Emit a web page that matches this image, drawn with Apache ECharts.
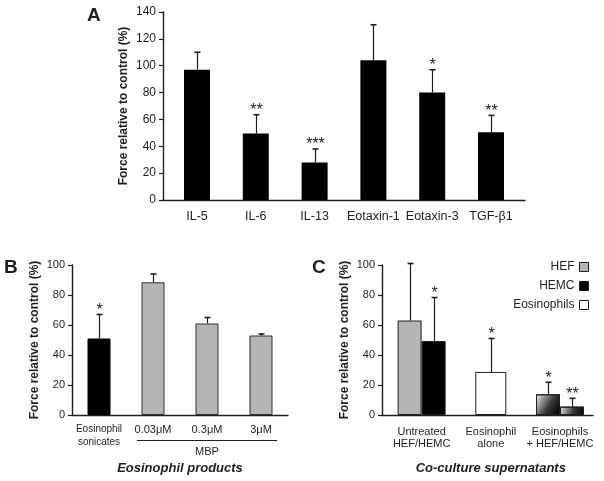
<!DOCTYPE html>
<html><head><meta charset="utf-8">
<script src="https://cdn.jsdelivr.net/npm/echarts@6/dist/echarts.min.js"></script>
<style>html,body{margin:0;padding:0;background:#fff}#c{width:604px;height:481px}</style>
</head><body><div id="c"></div>
<script>
// ---- Panel A data ----
const catsA = ['IL-5', 'IL-6', 'IL-13', 'Eotaxin-1', 'Eotaxin-3', 'TGF-β1'];
const valsA = [97, 49.5, 28, 104, 80, 50.5];
const errA  = [13, 14, 10, 26.5, 17, 12.5];
const sigA  = ['', '**', '***', '', '*', '**'];
const ticksA = {min: 0, max: 140, interval: 20};

// ---- Panel B data ----
const catsB = ['Eosinophil\nsonicates', '0.03μM', '0.3μM', '3μM'];
const valsB = [51, 88.5, 61, 53];
const errB  = [16, 5.5, 4, 1];
const sigB  = ['*', '', '', ''];
const ticksB = {min: 0, max: 100, interval: 20};

// ---- Panel C data ----
const catsC = ['Untreated\nHEF/HEMC', 'Eosinophil\nalone', 'Eosinophils\n+ HEF/HEMC'];
const hefC  = [63, null, 13.8];
const hefErrC = [38, null, 8];
const hefSigC = ['', '', '*'];
const hemcC = [49.3, null, 5.6];
const hemcErrC = [29, null, 5.5];
const hemcSigC = ['*', '', '**'];
const eosC  = [null, 28.7, null];
const eosErrC = [null, 22.3, null];
const eosSigC = ['', '*', ''];
const ticksC = {min: 0, max: 100, interval: 20};

const FONT = '"Liberation Sans", Arial, Helvetica, sans-serif';
const INK = '#1e1e1e';
const GREY = '#b5b5b5';
const grad = () => new echarts.graphic.LinearGradient(0, 0.15, 1, 0.85, [
  {offset: 0, color: '#e2e2e2'}, {offset: 0.55, color: '#3a3a3a'}, {offset: 1, color: '#000'}]);

const chart = echarts.init(document.getElementById('c'));

function errSeries(xi, yi, vals, errs, sigs, offset) {
  const rows = [];
  vals.forEach((v, i) => { if (v != null) rows.push([i, v, v + errs[i], sigs[i]]); });
  return {
    type: 'custom', xAxisIndex: xi, yAxisIndex: yi, silent: true, z: 5,
    data: rows.map(r => [r[0], r[1], r[2]]),
    renderItem(params, api) {
      const i = api.value(0);
      const b = api.coord([i, api.value(1)]);
      const t = api.coord([i, api.value(2)]);
      const x = Math.round(b[0] + offset) + 0.5;
      const ch = [
        {type: 'line', shape: {x1: x, y1: b[1], x2: x, y2: t[1]}, style: {stroke: INK, lineWidth: 1.2}},
        {type: 'line', shape: {x1: x - 3, y1: t[1], x2: x + 3, y2: t[1]}, style: {stroke: INK, lineWidth: 1.6}}
      ];
      const s = rows[params.dataIndex][3];
      if (s) ch.push({type: 'text', style: {text: s, x: x, y: t[1] + 4, align: 'center', verticalAlign: 'bottom',
        fill: INK, font: '16px ' + FONT}});
      return {type: 'group', children: ch};
    }
  };
}

function frameX(grid, cats) {
  return {type: 'category', gridIndex: grid, data: cats, axisTick: {show: false}, axisLabel: {show: false},
    axisLine: {lineStyle: {color: INK, width: 1.4}}};
}
function valY(grid, t, fs, gap) {
  return {type: 'value', gridIndex: grid, min: t.min, max: t.max, interval: t.interval,
    splitLine: {show: false},
    axisLine: {show: true, lineStyle: {color: INK, width: 1.4}},
    axisTick: {show: true, length: 4, lineStyle: {color: INK, width: 1.2}},
    axisLabel: {color: INK, fontSize: fs, fontFamily: FONT, margin: 7},
    name: 'Force relative to control (%)', nameLocation: 'middle', nameGap: gap, nameMoveOverlap: false,
    nameTextStyle: {color: INK, fontSize: 12, fontWeight: 'bold', fontFamily: FONT}};
}
function hiddenY(grid, t) {
  return {type: 'value', gridIndex: grid, min: t.min, max: t.max, interval: t.interval, show: false, splitLine: {show: false}};
}

const option = {
  backgroundColor: '#fff',
  animation: false,
  textStyle: {fontFamily: FONT},
  title: [
    {text: 'A', left: 87, top: 6, padding: 0, textStyle: {fontSize: 19, fontWeight: 'bold', color: INK, fontFamily: FONT}},
    {text: 'B', left: 4, top: 258, padding: 0, textStyle: {fontSize: 19, fontWeight: 'bold', color: INK, fontFamily: FONT}},
    {text: 'C', left: 312, top: 258, padding: 0, textStyle: {fontSize: 19, fontWeight: 'bold', color: INK, fontFamily: FONT}}
  ],
  legend: {
    data: ['HEF', 'HEMC', 'Eosinophils'], orient: 'vertical', right: 10, top: 256, align: 'right',
    itemWidth: 9, itemHeight: 9, itemGap: 7, icon: 'rect', selectedMode: false,
    itemStyle: {borderColor: INK, borderWidth: 1},
    textStyle: {color: INK, fontSize: 12, fontFamily: FONT, padding: [0, 0, 0, 0]}
  },
  grid: [
    {left: 163, top: 12, width: 362, height: 188},
    {left: 167.6, top: 12, width: 352.8, height: 188},
    {left: 72, top: 265, width: 216, height: 150},
    {left: 382, top: 265, width: 211, height: 150},
    {left: 387, top: 265, width: 207.6, height: 150}
  ],
  xAxis: [
    frameX(0, catsA),
    {type: 'category', gridIndex: 1, data: catsA, axisLine: {show: false}, axisTick: {show: false},
      axisLabel: {color: INK, fontSize: 12.5, fontFamily: FONT, margin: 10, interval: 0}},
    {type: 'category', gridIndex: 2, data: catsB.map((c, i) => i === 0 ? {value: c, textStyle: {fontSize: 10, lineHeight: 13}} : c),
      axisTick: {show: false}, axisLine: {lineStyle: {color: INK, width: 1.4}},
      axisLabel: {color: INK, fontSize: 11, fontFamily: FONT, margin: 8, interval: 0, lineHeight: 13},
      name: 'Eosinophil products', nameLocation: 'middle', nameGap: 47,
      nameTextStyle: {color: INK, fontSize: 13, fontWeight: 'bold', fontStyle: 'italic', fontFamily: FONT}},
    frameX(3, catsC),
    {type: 'category', gridIndex: 4, data: catsC, axisLine: {show: false}, axisTick: {show: false},
      axisLabel: {color: INK, fontSize: 11, fontFamily: FONT, margin: 11, interval: 0, lineHeight: 12},
      name: 'Co-culture supernatants', nameLocation: 'middle', nameGap: 47,
      nameTextStyle: {color: INK, fontSize: 13, fontWeight: 'bold', fontStyle: 'italic', fontFamily: FONT}},
    {type: 'category', gridIndex: 4, data: catsC, show: false}
  ],
  yAxis: [
    valY(0, ticksA, 12, 33),
    hiddenY(1, ticksA),
    valY(2, ticksB, 11, 31),
    valY(3, ticksC, 11, 31),
    hiddenY(4, ticksC)
  ],
  series: [
    {type: 'bar', name: 'panelA', xAxisIndex: 1, yAxisIndex: 1, barWidth: 26, data: valsA,
      itemStyle: {color: '#000'}},
    errSeries(1, 1, valsA, errA, sigA, 0),

    {type: 'bar', name: 'panelB', xAxisIndex: 2, yAxisIndex: 2, barWidth: 23,
      data: valsB.map((v, i) => ({value: v, itemStyle: i === 0 ? {color: '#000', borderColor: '#000'} : {color: GREY}})),
      itemStyle: {borderColor: '#333', borderWidth: 1}},
    errSeries(2, 2, valsB, errB, sigB, 0),

    {type: 'bar', name: 'HEF', xAxisIndex: 4, yAxisIndex: 4, barWidth: 24, barGap: '0%',
      data: hefC.map((v, i) => i === 2 ? {value: v, itemStyle: {color: grad()}} : v),
      itemStyle: {color: GREY, borderColor: INK, borderWidth: 1}},
    {type: 'bar', name: 'HEMC', xAxisIndex: 4, yAxisIndex: 4, barWidth: 24, barGap: '0%',
      data: hemcC.map((v, i) => i === 2 ? {value: v, itemStyle: {color: grad()}} : v),
      itemStyle: {color: '#000', borderColor: INK, borderWidth: 1}},
    {type: 'bar', name: 'Eosinophils', xAxisIndex: 5, yAxisIndex: 4, barWidth: 31, data: eosC,
      itemStyle: {color: '#fff', borderColor: INK, borderWidth: 1}},
    errSeries(4, 4, hefC, hefErrC, hefSigC, -12),
    errSeries(4, 4, hemcC, hemcErrC, hemcSigC, 12),
    errSeries(5, 4, eosC, eosErrC, eosSigC, 0)
  ]
};
chart.setOption(option);

// MBP bracket under the MBP categories of panel B
const p1 = chart.convertToPixel({xAxisIndex: 2}, 1);
const p3 = chart.convertToPixel({xAxisIndex: 2}, 3);
chart.setOption({graphic: [
  {type: 'line', shape: {x1: p1 - 16, y1: 440.5, x2: p3 + 16, y2: 440.5}, style: {stroke: INK, lineWidth: 1}},
  {type: 'text', x: (p1 + p3) / 2, y: 452, style: {text: 'MBP', font: '11px ' + FONT, fill: INK, align: 'center', verticalAlign: 'middle'}}
]});
</script></body></html>
